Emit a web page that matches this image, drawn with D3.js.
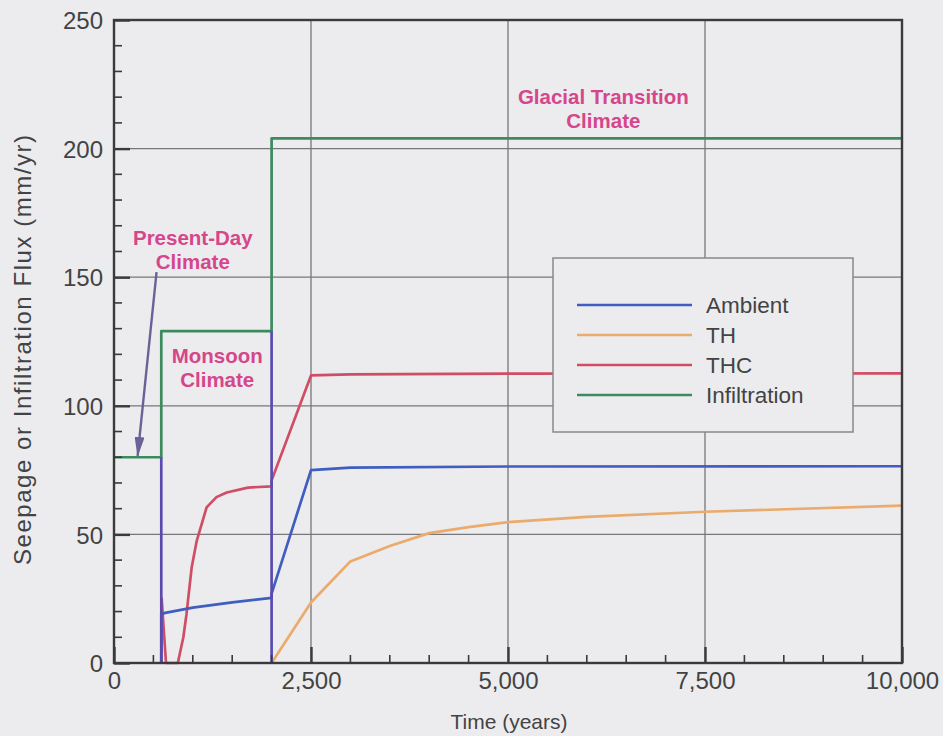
<!DOCTYPE html>
<html>
<head>
<meta charset="utf-8">
<script src="https://cdn.jsdelivr.net/npm/d3@7"></script>
<style>
  html, body { margin: 0; padding: 0; background: #ececee; }
  svg { display: block; font-family: "Liberation Sans", Arial, Helvetica, sans-serif; }
</style>
</head>
<body>
<svg id="chart" width="943" height="736"></svg>
<script>
// ---- data: time in years, flux in mm/yr ----
const infiltration = [[0, 80], [600, 80], [600, 129], [2000, 129], [2000, 204], [10000, 204]];
const ambient = [[600, 0], [600, 19], [650, 19.5], [1000, 21.5], [1500, 23.6], [2000, 25.3],
                 [2000, 27], [2500, 75], [3000, 76], [5000, 76.4], [10000, 76.5]];
const th = [[2000, 0], [2500, 23.5], [3000, 39.5], [3500, 45.5], [4000, 50.5], [4500, 52.8],
            [5000, 54.8], [6000, 56.8], [7500, 58.8], [10000, 61.2]];
const thc = [[600, 0], [605, 25], [660, 0], [810, 0], [880, 10], [920, 19], [985, 37],
             [1050, 47.5], [1175, 60.5], [1300, 64.5], [1430, 66.3], [1700, 68.2], [2000, 68.7],
             [2000, 71], [2500, 111.8], [3000, 112.2], [5000, 112.5], [10000, 112.6]];
// seepage reset at each climate change (time, infiltration level before the drop)
const climateShifts = [[600, 80], [2000, 129]];

const seriesNames = ["Ambient", "TH", "THC", "Infiltration"];
const seriesColors = ["#3f5ec0", "#eaab6c", "#cf4e66", "#3c8a5e"];

const xMajorTicks = [0, 2500, 5000, 7500, 10000];
const yMajorTicks = [0, 50, 100, 150, 200, 250];

const annotations = [
  { lines: ["Glacial Transition", "Climate"], t: 6210, v: 217.5 },
  { lines: ["Present-Day", "Climate"], t: 1000, v: 162.5 },
  { lines: ["Monsoon", "Climate"], t: 1310, v: 116.5 }
];
// arrow from the Present-Day label down to its infiltration level
const arrowPath = [[540, 152], [300, 80.5]];

// ---- layout ----
const svg = d3.select("#chart");
const plotLeft = 114, plotRight = 902, plotTop = 20, plotBottom = 663;

const x = d3.scaleLinear().domain([0, 10000]).range([plotLeft, plotRight]);
const y = d3.scaleLinear().domain([0, 250]).range([plotBottom, plotTop]);

const gridColor = "#77777a";
const axisColor = "#3a3a3c";
const textColor = "#434345";

// gridlines
svg.append("g").selectAll("line")
  .data(yMajorTicks.filter(d => d > 0 && d < 250))
  .join("line")
  .attr("x1", plotLeft).attr("x2", plotRight)
  .attr("y1", d => y(d)).attr("y2", d => y(d))
  .attr("stroke", gridColor).attr("stroke-width", 1.3);
svg.append("g").selectAll("line")
  .data(xMajorTicks.filter(d => d > 0 && d < 10000))
  .join("line")
  .attr("x1", d => x(d)).attr("x2", d => x(d))
  .attr("y1", plotTop).attr("y2", plotBottom)
  .attr("stroke", gridColor).attr("stroke-width", 1.3);

// series lines
const line = d3.line().x(d => x(d[0])).y(d => y(d[1]));
const seriesData = [ambient, th, thc, infiltration];
const drawOrder = [1, 2, 0, 3];
const lines = svg.append("g").attr("fill", "none").attr("stroke-linejoin", "round");
drawOrder.forEach(i => {
  lines.append("path").datum(seriesData[i])
    .attr("d", line)
    .attr("stroke", seriesColors[i])
    .attr("stroke-width", 2.7);
});
lines.selectAll("line.shift")
  .data(climateShifts)
  .join("line")
  .attr("class", "shift")
  .attr("x1", d => x(d[0])).attr("x2", d => x(d[0]))
  .attr("y1", d => y(d[1])).attr("y2", y(0))
  .attr("stroke", "#5a4cae").attr("stroke-width", 2.7);

// frame
svg.append("rect")
  .attr("x", plotLeft).attr("y", plotTop)
  .attr("width", plotRight - plotLeft).attr("height", plotBottom - plotTop)
  .attr("fill", "none").attr("stroke", axisColor).attr("stroke-width", 2.4);

// axes: ticks point inward
const xAxis = d3.axisBottom(x).tickValues(xMajorTicks)
  .tickSize(-16).tickPadding(26).tickFormat(d3.format(","));
const gx = svg.append("g").attr("transform", `translate(0,${plotBottom})`).call(xAxis);
const yAxis = d3.axisLeft(y).tickValues(yMajorTicks)
  .tickSize(-16).tickPadding(11).tickFormat(d3.format("d"));
const gy = svg.append("g").attr("transform", `translate(${plotLeft},0)`).call(yAxis);
[gx, gy].forEach(g => {
  g.select(".domain").remove();
  g.selectAll(".tick line").attr("stroke", axisColor).attr("stroke-width", 2.4);
  g.selectAll(".tick text").attr("fill", textColor)
    .style("font-size", "24px").style("font-family", "'Liberation Sans', Arial, sans-serif");
});
gy.selectAll(".tick text").attr("dy", "0.36em");
gx.selectAll(".tick text").attr("dy", "0");

// minor ticks
svg.append("g").selectAll("line")
  .data(d3.range(500, 10000, 500).filter(d => d % 2500 !== 0))
  .join("line")
  .attr("x1", d => x(d)).attr("x2", d => x(d))
  .attr("y1", plotBottom).attr("y2", plotBottom - 8)
  .attr("stroke", axisColor).attr("stroke-width", 1.6);
svg.append("g").selectAll("line")
  .data(d3.range(10, 250, 10).filter(d => d % 50 !== 0))
  .join("line")
  .attr("x1", plotLeft).attr("x2", plotLeft + 8)
  .attr("y1", d => y(d)).attr("y2", d => y(d))
  .attr("stroke", axisColor).attr("stroke-width", 1.6);

// axis titles
svg.append("text")
  .attr("x", 509).attr("y", 729)
  .attr("text-anchor", "middle")
  .attr("fill", textColor).style("font-size", "21px")
  .text("Time (years)");
svg.append("text")
  .attr("transform", "translate(31,350) rotate(-90)")
  .attr("text-anchor", "middle")
  .attr("textLength", 430).attr("lengthAdjust", "spacing")
  .attr("fill", textColor).style("font-size", "24px")
  .text("Seepage or Infiltration Flux (mm/yr)");

// climate annotations
const ann = svg.append("g")
  .attr("fill", "#d5468b").attr("text-anchor", "middle")
  .style("font-size", "20.5px").style("font-weight", "bold");
annotations.forEach(a => {
  const t = ann.append("text").attr("x", x(a.t)).attr("y", y(a.v));
  a.lines.forEach((s, i) => {
    t.append("tspan").attr("x", x(a.t)).attr("dy", i === 0 ? 0 : 24).text(s);
  });
});

// arrow with an elongated head
svg.append("defs").append("marker")
  .attr("id", "arrowhead").attr("viewBox", "0 0 20 10")
  .attr("refX", 19).attr("refY", 5)
  .attr("markerWidth", 20).attr("markerHeight", 10)
  .attr("orient", "auto").attr("markerUnits", "userSpaceOnUse")
  .append("path").attr("d", "M0,0 L20,5 L0,10 Z").attr("fill", "#6b6197");
svg.append("path")
  .datum(arrowPath)
  .attr("d", d3.line().x(d => x(d[0])).y(d => y(d[1])))
  .attr("stroke", "#6b6197").attr("stroke-width", 2.4).attr("fill", "none")
  .attr("marker-end", "url(#arrowhead)");

// legend
const legend = svg.append("g");
legend.append("rect")
  .attr("x", 553).attr("y", 258).attr("width", 300).attr("height", 174)
  .attr("fill", "#ececee").attr("stroke", "#88888a").attr("stroke-width", 1.5);
seriesNames.forEach((name, i) => {
  const yy = 305 + i * 30;
  legend.append("line")
    .attr("x1", 577).attr("x2", 692).attr("y1", yy).attr("y2", yy)
    .attr("stroke", seriesColors[i]).attr("stroke-width", 2.7);
  legend.append("text")
    .attr("x", 706).attr("y", yy).attr("dy", "0.36em")
    .attr("fill", textColor).style("font-size", "22.5px")
    .text(name);
});
</script>
</body>
</html>
